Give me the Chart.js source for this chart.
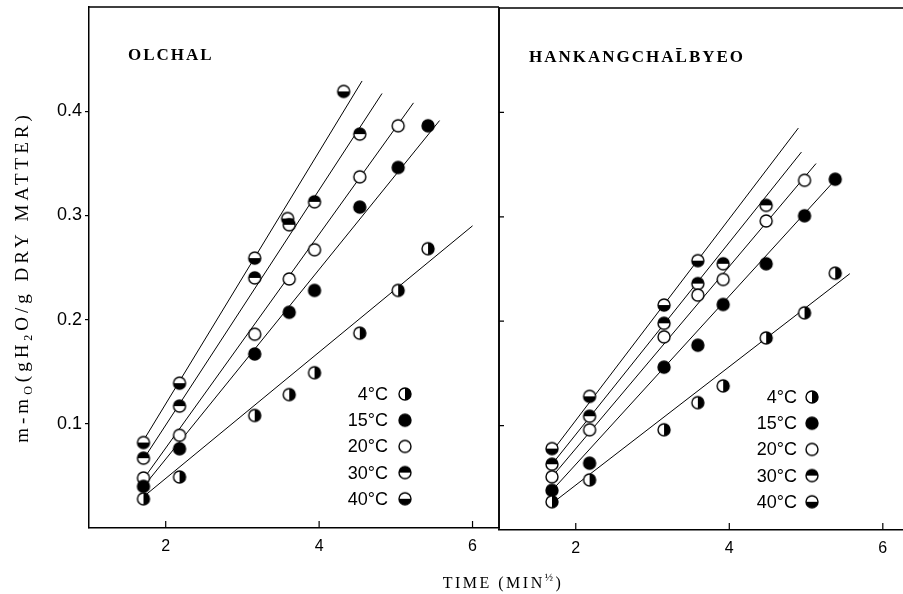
<!DOCTYPE html>
<html>
<head>
<meta charset="utf-8">
<script src="https://cdn.jsdelivr.net/npm/chart.js@4.4.1/dist/chart.umd.min.js"></script>
<style>
  html, body { margin: 0; padding: 0; background: #fff; }
  #wrap { position: relative; width: 903px; height: 594px; }
  #wrap canvas { position: absolute; left: 0; top: 0; }
</style>
</head>
<body>
<div id="wrap">
  <canvas id="olchal" width="903" height="594"></canvas>
  <canvas id="hankang" width="903" height="594"></canvas>
</div>
<script>
// legend labels, in the order of the figure
const tempLabels = ['4°C', '15°C', '20°C', '30°C', '40°C'];

// OLCHAL (left panel), time in min^1/2, uptake in g H2O / g dry matter
const olchalTime = [1.71, 2.18, 3.16, 3.61, 3.94, 4.53, 5.03, 5.42];
const olchal4 = [0.028, 0.049, 0.108, 0.128, 0.149, 0.187, 0.228, 0.268];
const olchal15 = [0.040, 0.076, 0.167, 0.207, 0.228, 0.308, 0.346, 0.386];
const olchal20 = [0.048, 0.089, 0.186, 0.239, 0.267, 0.337, 0.386, null];
const olchal30 = [0.067, 0.117, 0.240, 0.291, 0.313, 0.378, null, null];
const olchal40Time = [1.71, 2.18, 3.16, 3.59, 4.32];
const olchal40 = [0.082, 0.139, 0.259, 0.297, 0.419];
// fitted lines: [x0, y0, x1, y1]
const olchalFits = [
  [1.71, 0.030, 6.00, 0.290],
  [1.68, 0.037, 5.57, 0.391],
  [1.71, 0.047, 5.23, 0.408],
  [1.71, 0.066, 4.82, 0.417],
  [1.71, 0.084, 4.56, 0.429]
];

// HANKANGCHALBYEO (right panel)
const hankTime = [1.69, 2.18, 3.15, 3.59, 3.92, 4.48, 4.98, 5.38];
const hank4 = [0.027, 0.048, 0.096, 0.122, 0.138, 0.184, 0.208, 0.246];
const hank15 = [0.038, 0.064, 0.156, 0.177, 0.216, 0.255, 0.301, 0.336];
const hank20 = [0.051, 0.096, 0.185, 0.225, 0.240, 0.296, 0.335, null];
const hank30 = [0.063, 0.109, 0.198, 0.236, 0.255, 0.311, null, null];
const hank40 = [0.078, 0.128, 0.2155, 0.258, null, null, null, null];
const hankFits = [
  [1.70, 0.026, 5.57, 0.2455],
  [1.68, 0.037, 5.40, 0.337],
  [1.68, 0.050, 5.13, 0.351],
  [1.68, 0.062, 4.94, 0.362],
  [1.70, 0.076, 4.90, 0.385]
];

Chart.defaults.color = '#000';
Chart.defaults.font.family = '"Liberation Sans", Arial, sans-serif';

// marker images: 4 right half, 15 full, 20 open, 30 top half, 40 bottom half
function makeMarker(kind) {
  const c = document.createElement('canvas');
  c.width = 16; c.height = 16;
  const g = c.getContext('2d');
  const r = 6;
  g.fillStyle = '#fff';
  g.beginPath(); g.arc(8, 8, r, 0, Math.PI * 2); g.fill();
  g.fillStyle = '#000';
  g.beginPath();
  if (kind === 'full') g.arc(8, 8, r, 0, Math.PI * 2);
  if (kind === 'right') g.arc(8, 8, r, -Math.PI / 2, Math.PI / 2);
  if (kind === 'top') g.arc(8, 8, r, Math.PI, Math.PI * 2);
  if (kind === 'bottom') g.arc(8, 8, r, 0, Math.PI);
  g.closePath();
  if (kind !== 'open') g.fill();
  g.lineWidth = 1.4;
  g.strokeStyle = '#000';
  g.beginPath(); g.arc(8, 8, r, 0, Math.PI * 2); g.stroke();
  return c;
}
const markers = ['right', 'full', 'open', 'top', 'bottom'].map(makeMarker);

function pointSet(xs, ys, img) {
  const pts = [];
  xs.forEach((x, i) => { if (ys[i] !== null && ys[i] !== undefined) pts.push({ x: x, y: ys[i] }); });
  return { data: pts, pointStyle: img, pointRadius: 6, showLine: false, order: 0 };
}
function fitSet(f) {
  return {
    data: [{ x: f[0], y: f[1] }, { x: f[2], y: f[3] }],
    showLine: true, borderColor: '#000', borderWidth: 1, pointRadius: 0, order: 1
  };
}

function drawParts(ctx, parts, x, y) {
  // parts: [text, size, dy]; centred on x
  let total = 0;
  parts.forEach(p => {
    ctx.font = p[1] + 'px "Liberation Serif", "Times New Roman", serif';
    total += ctx.measureText(p[0]).width;
  });
  let cx = x - total / 2;
  parts.forEach(p => {
    ctx.font = p[1] + 'px "Liberation Serif", "Times New Roman", serif';
    ctx.fillText(p[0], cx, y + p[2]);
    cx += ctx.measureText(p[0]).width;
  });
}

const panelDecor = {
  id: 'panelDecor',
  afterDraw(chart, args, opts) {
    const ctx = chart.ctx;
    const a = chart.chartArea;
    const x = chart.scales.x, y = chart.scales.y;
    ctx.save();
    ctx.strokeStyle = '#000';
    ctx.lineWidth = 1.5;
    ctx.beginPath();
    ctx.moveTo(a.left, a.top); ctx.lineTo(a.right, a.top);
    if (opts.rightSide) { ctx.moveTo(a.right, a.top); ctx.lineTo(a.right, a.bottom); }
    if (opts.leftSide) { ctx.moveTo(a.left, a.top); ctx.lineTo(a.left, a.bottom); }
    ctx.stroke();

    // inward ticks
    ctx.lineWidth = 1.2;
    ctx.beginPath();
    x.ticks.forEach(t => {
      const px = x.getPixelForValue(t.value);
      if (px <= a.left + 1) return;
      ctx.moveTo(px, a.bottom); ctx.lineTo(px, a.bottom - 7);
    });
    if (opts.innerYTicks) {
      y.ticks.forEach(t => {
        if (t.value < 0.05 || t.value > 0.45) return;
        const py = y.getPixelForValue(t.value);
        ctx.moveTo(a.left, py); ctx.lineTo(a.left + 5, py);
      });
    }
    ctx.stroke();

    // panel name
    ctx.fillStyle = '#000';
    ctx.textAlign = 'left';
    ctx.textBaseline = 'alphabetic';
    ctx.font = '600 17px "Liberation Serif", "Times New Roman", serif';
    ctx.letterSpacing = '2px';
    ctx.fillText(opts.title, a.left + opts.titleDx, a.top + opts.titleDy);

    // legend
    ctx.letterSpacing = '0px';
    ctx.font = '18px "Liberation Sans", Arial, sans-serif';
    ctx.textAlign = 'right';
    ctx.textBaseline = 'middle';
    tempLabels.forEach((lab, i) => {
      const ly = a.top + opts.legDy + i * 26.2;
      ctx.fillText(lab, a.left + opts.legTextDx, ly + 1);
      const m = markers[i];
      ctx.drawImage(m, a.left + opts.legMarkDx - m.width / 2, ly - m.height / 2);
    });

    if (opts.axisTitles) {
      // y title, rotated
      ctx.save();
      ctx.translate(28, 277);
      ctx.rotate(-Math.PI / 2);
      ctx.textAlign = 'left';
      ctx.textBaseline = 'alphabetic';
      ctx.letterSpacing = '4px';
      drawParts(ctx, [['m-m', 19, 0], ['O', 12, 4], ['(gH', 19, 0], ['2', 12, 4], ['O/g DRY MATTER)', 19, 0]], 0, 0);
      ctx.restore();
      // x title
      ctx.textAlign = 'left';
      ctx.textBaseline = 'alphabetic';
      ctx.letterSpacing = '2.5px';
      drawParts(ctx, [['TIME (MIN', 16, 0], ['½', 11, -7], [')', 16, 0]], 503, 588);
    }
    ctx.restore();
  }
};

function xScale(max, h) {
  return {
    type: 'linear', min: 1, max: max,
    ticks: {
      stepSize: 1, includeBounds: false, autoSkip: false, maxRotation: 0, padding: 9,
      font: { size: 16 },
      callback: v => (Math.abs(v % 2) < 1e-6 ? String(v) : null)
    },
    grid: { drawOnChartArea: false, drawTicks: false },
    border: { color: '#000', width: 1.5 },
    afterFit: s => { s.height = h; s.paddingLeft = 0; s.paddingRight = 0; }
  };
}

new Chart(document.getElementById('olchal'), {
  type: 'scatter',
  data: {
    datasets: [
      pointSet(olchalTime, olchal4, markers[0]),
      pointSet(olchalTime, olchal15, markers[1]),
      pointSet(olchalTime, olchal20, markers[2]),
      pointSet(olchalTime, olchal30, markers[3]),
      pointSet(olchal40Time, olchal40, markers[4])
    ].concat(olchalFits.map(fitSet))
  },
  options: {
    responsive: false,
    animation: false,
    devicePixelRatio: 1,
    layout: { autoPadding: false, padding: { left: 0, right: 404, top: 7, bottom: 0 } },
    plugins: {
      legend: { display: false },
      tooltip: { enabled: false },
      panelDecor: {
        title: 'OLCHAL', titleDx: 39, titleDy: 53,
        legDy: 387, legTextDx: 299, legMarkDx: 316,
        rightSide: true, axisTitles: true
      }
    },
    scales: {
      x: xScale(6.345, 66),
      y: {
        min: 0, max: 0.5,
        ticks: {
          stepSize: 0.1, padding: 3, font: { size: 18 },
          callback: v => (v > 0.05 && v < 0.45 ? v.toFixed(1) : null)
        },
        grid: { drawOnChartArea: false, drawTicks: true, tickLength: 4, color: '#000', lineWidth: 1.2 },
        border: { color: '#000', width: 1.5 },
        // keep the frame where the figure has it: no extra room for the edge labels
        afterFit: s => { s.width = 89; s.paddingTop = 0; s.paddingBottom = 0; }
      }
    }
  },
  plugins: [panelDecor]
});

new Chart(document.getElementById('hankang'), {
  type: 'scatter',
  data: {
    datasets: [
      pointSet(hankTime, hank4, markers[0]),
      pointSet(hankTime, hank15, markers[1]),
      pointSet(hankTime, hank20, markers[2]),
      pointSet(hankTime, hank30, markers[3]),
      pointSet(hankTime, hank40, markers[4])
    ].concat(hankFits.map(fitSet))
  },
  options: {
    responsive: false,
    animation: false,
    devicePixelRatio: 1,
    layout: { autoPadding: false, padding: { left: 499, right: 0, top: 8, bottom: 0 } },
    plugins: {
      legend: { display: false },
      tooltip: { enabled: false },
      panelDecor: {
        title: 'HANKANGCHAL\u0304BYEO', titleDx: 30, titleDy: 54,
        legDy: 389, legTextDx: 298, legMarkDx: 313,
        leftSide: true, innerYTicks: true
      }
    },
    scales: {
      x: xScale(6.263, 64),
      y: {
        min: 0, max: 0.5,
        ticks: { stepSize: 0.1, display: false },
        grid: { display: false },
        border: { display: false },
        afterFit: s => { s.width = 0; s.paddingTop = 0; s.paddingBottom = 0; }
      }
    }
  },
  plugins: [panelDecor]
});
</script>
</body>
</html>
